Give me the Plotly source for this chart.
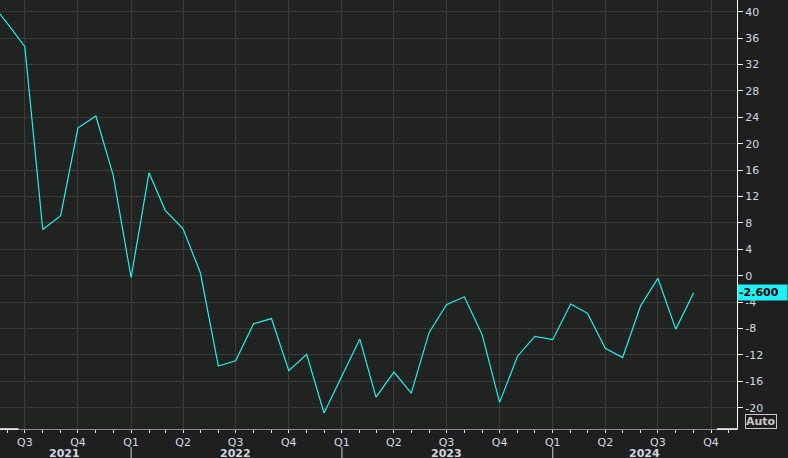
import plotly.graph_objects as go

# monthly readings, plotted at the first of each month
months = [
    "2021-05-01", "2021-06-01", "2021-07-01", "2021-08-01", "2021-09-01", "2021-10-01",
    "2021-11-01", "2021-12-01", "2022-01-01", "2022-02-01", "2022-03-01", "2022-04-01",
    "2022-05-01", "2022-06-01", "2022-07-01", "2022-08-01", "2022-09-01", "2022-10-01",
    "2022-11-01", "2022-12-01", "2023-01-01", "2023-02-01", "2023-03-01", "2023-04-01",
    "2023-05-01", "2023-06-01", "2023-07-01", "2023-08-01", "2023-09-01", "2023-10-01",
    "2023-11-01", "2023-12-01", "2024-01-01", "2024-02-01", "2024-03-01", "2024-04-01",
    "2024-05-01", "2024-06-01", "2024-07-01", "2024-08-01", "2024-09-01",
]
values = [
    41.6, 38.2, 34.7, 7.0, 9.1, 22.4,
    24.2, 15.2, -0.3, 15.6, 9.9, 7.1,
    0.4, -13.7, -12.9, -7.3, -6.5, -14.4,
    -11.9, -20.8, -15.2, -9.6, -18.4, -14.6,
    -17.8, -8.6, -4.4, -3.2, -9.0, -19.2,
    -12.2, -9.2, -9.7, -4.3, -5.7, -11.0,
    -12.4, -4.6, -0.4, -8.1, -2.6,
]
last_value = -2.6

quarter_starts = [
    "2021-07-01", "2021-10-01", "2022-01-01", "2022-04-01", "2022-07-01", "2022-10-01",
    "2023-01-01", "2023-04-01", "2023-07-01", "2023-10-01", "2024-01-01", "2024-04-01",
    "2024-07-01", "2024-10-01",
]
quarter_labels = ["Q3", "Q4", "Q1", "Q2", "Q3", "Q4", "Q1", "Q2", "Q3", "Q4", "Q1", "Q2", "Q3", "Q4"]
years = ["2021", "2022", "2023", "2024"]
year_centers = ["2021-09-07", "2022-07-01", "2023-07-01", "2024-06-08"]
year_breaks = ["2022-01-01", "2023-01-01", "2024-01-01"]
y_ticks = list(range(-20, 41, 4))
y_labels = [str(v) for v in y_ticks]

grid = "#3a3b39"
label_col = "#d0d8e0"
font = "DejaVu Sans"

fig = go.Figure()
fig.add_trace(go.Scatter(
    x=months, y=values, mode="lines",
    line=dict(color="#22eef2", width=1.2),
    hoverinfo="skip",
))

layout_shapes = []
# year separators under the quarter labels
for d in year_breaks:
    layout_shapes.append(dict(type="line", xref="x", yref="paper", x0=d, x1=d,
                              y0=-0.042, y1=-0.07, line=dict(color="#cccccc", width=1)))
# white bits of the bottom axis line at both ends
layout_shapes.append(dict(type="line", xref="paper", yref="paper", x0=0, x1=0.025,
                          y0=0, y1=0, line=dict(color="#ffffff", width=1.5)))
layout_shapes.append(dict(type="line", xref="paper", yref="paper", x0=0.973, x1=1,
                          y0=0, y1=0, line=dict(color="#ffffff", width=1.5)))

annotations = []
for yr, c in zip(years, year_centers):
    annotations.append(dict(x=c, xref="x", y=-0.056, yref="paper", text="<b>%s</b>" % yr,
                            showarrow=False, yanchor="middle",
                            font=dict(family=font, size=11, color=label_col)))
# last value tag
annotations.append(dict(x=1, xref="paper", y=last_value, yref="y", text="<b>-2.600</b>",
                        showarrow=False, xanchor="left", yanchor="middle",
                        bgcolor="#1ef0f5", width=47, height=13, align="left",
                        font=dict(family=font, size=11, color="#000000")))
annotations.append(dict(x=1, xref="paper", xshift=8, y=0.017, yref="paper", text="<b>Auto</b>",
                        showarrow=False, xanchor="left", yanchor="middle",
                        bordercolor="#c8c8c8", borderwidth=1, borderpad=0,
                        font=dict(family=font, size=11, color="#c8c8c8")))

fig.update_layout(
    width=788, height=458,
    margin=dict(l=0, r=51, t=0, b=29),
    paper_bgcolor="#1f1f1f",
    plot_bgcolor="#212320",
    showlegend=False,
    font=dict(family=font, size=11, color=label_col),
    shapes=layout_shapes,
    annotations=annotations,
    xaxis=dict(
        type="date",
        range=["2021-05-19", "2024-11-15"],
        tickmode="array", tickvals=quarter_starts, ticktext=quarter_labels,
        ticks="outside", ticklen=3, tickcolor="#ffffff",
        showgrid=True, gridcolor=grid, gridwidth=1,
        showline=True, linecolor="#8a8a8a", linewidth=1,
        zeroline=False,
        tickfont=dict(family=font, size=11, color=label_col),
        minor=dict(tickmode="linear", tick0="2021-01-01", dtick="M1", ticks="outside",
                   ticklen=3, tickcolor="#ffffff", showgrid=False),
    ),
    yaxis=dict(
        side="right",
        range=[-23.23, 41.77],
        tickmode="array", tickvals=y_ticks, ticktext=y_labels,
        ticks="outside", ticklen=5, tickcolor="#ffffff",
        showgrid=True, gridcolor=grid, gridwidth=1,
        showline=True, linecolor="#ffffff", linewidth=1,
        zeroline=False,
        tickfont=dict(family=font, size=11, color=label_col),
    ),
)

# drop the page's default body margin so the chart sits at the window corner
fig.write_html("out.html", config={"displayModeBar": False},
               post_script="document.body.style.margin='0';document.body.style.background='#1f1f1f';")
